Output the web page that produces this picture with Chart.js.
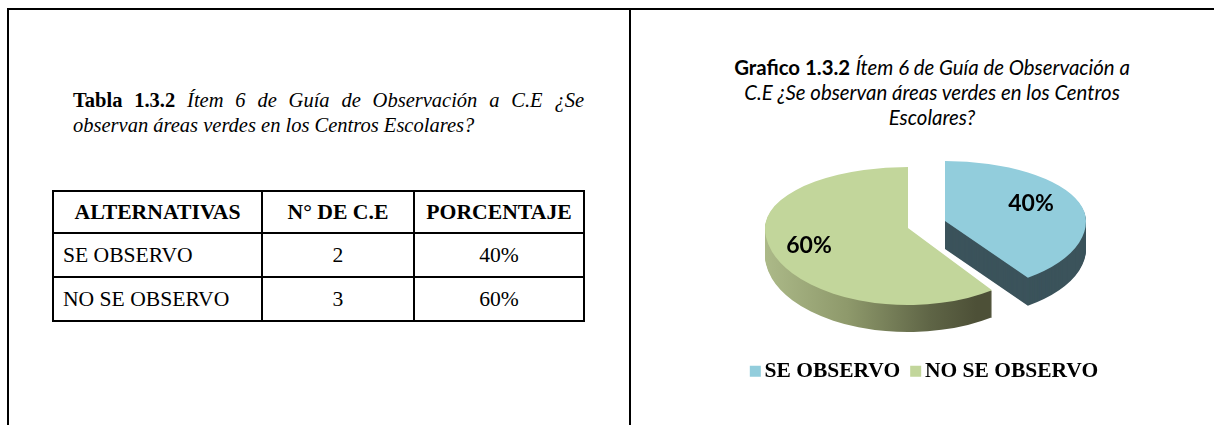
<!DOCTYPE html>
<html lang="es"><head><meta charset="utf-8">
<script src="https://cdn.jsdelivr.net/npm/chart.js@4/dist/chart.umd.js"></script>
<style>
html,body{margin:0;padding:0;background:#fff;width:1214px;height:425px;overflow:hidden}
.rule{position:absolute;background:#000}
.txt{position:absolute}
#cap1{left:73px;top:88px;width:511px;font:20.5px/25px "Liberation Serif",serif;color:#000;text-align:justify}
#cap2{left:722px;top:55px;width:420px;font:20.4px/25px Lato,sans-serif;color:#000;text-align:center}
table{position:absolute;left:52px;top:190px;width:531px;border-collapse:collapse;font:21.6px "Liberation Serif",serif;color:#000;table-layout:fixed}
td,th{border:2px solid #000;padding:0;text-align:center}
td.l{text-align:left;padding-left:9px}
tbody tr{height:44px}
thead tr{height:42px}
th{font-size:21.7px}
canvas{position:absolute;left:640px;top:0}
</style></head><body>
<div class="rule" style="left:7px;top:8px;width:1207px;height:2px"></div>
<div class="rule" style="left:7px;top:8px;width:2px;height:417px"></div>
<div class="rule" style="left:629px;top:8px;width:2px;height:417px"></div>
<div class="txt" id="cap1"><b>Tabla 1.3.2</b> <i>Ítem 6 de Guía de Observación a C.E ¿Se observan áreas verdes en los Centros Escolares?</i></div>
<div class="txt" id="cap2"><b>Grafico 1.3.2</b> <i>Ítem 6 de Guía de Observación a C.E ¿Se observan áreas verdes en los Centros Escolares?</i></div>
<table id="tbl"><colgroup><col style="width:209px"><col style="width:152px"><col style="width:170px"></colgroup><thead></thead><tbody></tbody></table>
<canvas id="c" width="574" height="392"></canvas>
<script>
const headers = ["ALTERNATIVAS", "N° DE C.E", "PORCENTAJE"];
const categories = ["SE OBSERVO", "NO SE OBSERVO"];
const counts = [2, 3];
const percents = [40, 60];
const sliceColors = ["#92CDDC", "#C2D69B"];

const thead = document.querySelector('#tbl thead');
const tbody = document.querySelector('#tbl tbody');
thead.innerHTML = '<tr>' + headers.map(h => '<th>' + h + '</th>').join('') + '</tr>';
categories.forEach((c, i) => {
  tbody.innerHTML += '<tr><td class="l">' + c + '</td><td>' + counts[i] + '</td><td>' + percents[i] + '%</td></tr>';
});

// page-pixel geometry of each slice's 3D look, relative to canvas origin
const canvasLeft = 640;
const look = [
  {cx: 945 - canvasLeft, cy: 221, rx: 141, top: 60, bottom: 70, depth: 28, label: [1031, 204]},
  {cx: 908 - canvasLeft, cy: 228, rx: 143, top: 61, bottom: 77, depth: 27, label: [809, 246]}
];

const pie3d = {
  id: 'pie3d',
  beforeDatasetDraw(chart, args) {
    const ctx = chart.ctx;
    const arcs = args.meta.data;
    const paint = (i, dy, fill) => {
      const el = arcs[i], g = look[i];
      const proxy = Object.create(el);
      proxy.options = Object.assign({}, el.options, {backgroundColor: fill, borderWidth: 0});
      [[-1, g.top], [1, g.bottom]].forEach(([side, ry]) => {
        ctx.save();
        ctx.beginPath();
        if (side < 0) ctx.rect(0, 0, chart.width, g.cy + dy);
        else ctx.rect(0, g.cy + dy, chart.width, chart.height);
        ctx.clip();
        ctx.translate(g.cx, g.cy + dy);
        ctx.scale(g.rx / el.outerRadius, ry / el.outerRadius);
        ctx.translate(-el.x, -el.y);
        Chart.ArcElement.prototype.draw.call(proxy, ctx);
        ctx.restore();
      });
    };
    const sideGreen = ctx.createLinearGradient(765 - canvasLeft, 0, 994 - canvasLeft, 0);
    sideGreen.addColorStop(0, '#B4C290');
    sideGreen.addColorStop(0.45, '#8E996B');
    sideGreen.addColorStop(0.8, '#5F6546');
    sideGreen.addColorStop(1, '#4D5037');
    [[0, '#3B535B'], [1, sideGreen]].forEach(([i, fill]) => {
      for (let d = look[i].depth; d >= 1; d--) paint(i, d, fill);
    });
    paint(0, 0, sliceColors[0]);
    paint(1, 0, sliceColors[1]);
    ctx.save();
    ctx.fillStyle = '#000';
    ctx.font = 'bold 23px Lato, sans-serif';
    ctx.textAlign = 'center';
    ctx.textBaseline = 'middle';
    percents.forEach((p, i) => {
      ctx.fillText(p + '%', look[i].label[0] - canvasLeft, look[i].label[1]);
    });
    ctx.restore();
    return false;
  },
  afterDraw(chart) {
    // legend swatches sit tight against their text, closer than the library's fixed gap
    const legend = chart.legend, ctx = chart.ctx;
    legend.legendHitBoxes.forEach((hb, i) => {
      ctx.fillStyle = legend.legendItems[i].fillStyle;
      ctx.fillRect(hb.left - 6, hb.top + (hb.height - 11) / 2, 11, 11);
    });
  }
};

new Chart(document.getElementById('c'), {
  type: 'pie',
  data: {labels: categories, datasets: [{data: percents, backgroundColor: sliceColors, borderWidth: 0}]},
  options: {
    responsive: false,
    animation: false,
    radius: 140,
    plugins: {
      tooltip: {enabled: false},
      legend: {
        position: 'bottom',
        labels: {
          usePointStyle: true, pointStyle: 'rect', boxWidth: -2, boxHeight: 11, padding: 16,
          color: '#000', font: {family: '"Liberation Serif", serif', weight: 'bold', size: 21.5}
        }
      }
    }
  },
  plugins: [pie3d]
});
</script>
</body></html>
